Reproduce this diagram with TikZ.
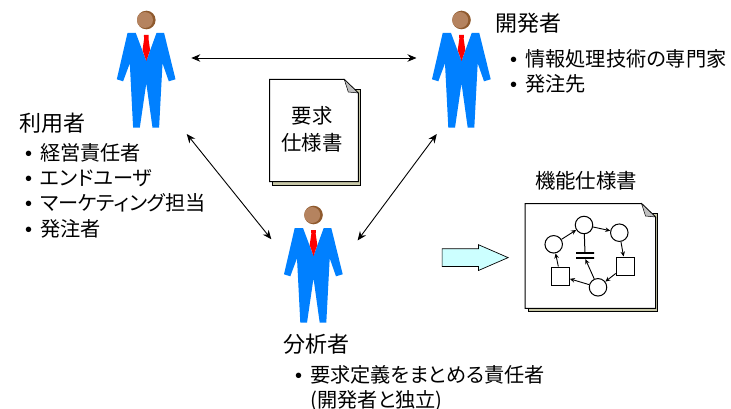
\documentclass[tikz,border=0pt]{standalone}
\usepackage{fontspec}
\setmainfont[RawFeature=+palt]{Noto Sans CJK JP}
\newfontfamily\bulletfont{Liberation Sans}
\usetikzlibrary{shapes, arrows.meta}
\definecolor{suitBlue}{HTML}{0080FF}
\definecolor{skinBrown}{HTML}{B5835F}
\definecolor{skinDark}{HTML}{8F5A2E}
\definecolor{pageShadow}{HTML}{C8C8A8}
\definecolor{foldGray}{HTML}{C0C0C0}
\definecolor{flowCyan}{HTML}{CCFFFF}
\tikzstyle{arrow} = [{Stealth[length=9pt,width=7.5pt]}-{Stealth[length=9pt,width=7.5pt]},line width=0.9pt]
\tikzstyle{smallarrow} = [-{Stealth[length=5pt,width=4.5pt]},line width=0.9pt]
\tikzstyle{personbox} = [rectangle, minimum width=90pt, minimum height=152pt, inner sep=0pt, outer sep=0pt]
\tikzstyle{place} = [circle, minimum size=17.5pt, inner sep=0pt, draw=black, line width=1pt, fill=white]
\tikzstyle{trans} = [rectangle, minimum size=18pt, inner sep=0pt, draw=black, line width=1pt, fill=white]
\tikzstyle{bar} = [rectangle, minimum width=18pt, minimum height=0pt, inner sep=0pt, draw=black, line width=1.7pt]
\tikzstyle{title} = [anchor=west, inner sep=0pt, font=\fontsize{22}{25}\selectfont]
\tikzstyle{listing} = [anchor=north west, inner sep=0pt, align=left, font=\fontsize{20.2}{25.3}\selectfont]
\tikzstyle{doctext} = [align=center, inner sep=0pt, font=\fontsize{20.4}{27}\selectfont]
\newcommand{\bul}{\makebox[15pt][l]{\bulletfont\fontsize{20}{20}\selectfont\textbullet}}
% one man in a suit, with an invisible box (#1) to hook the arrows on
\newcommand{\drawPerson}[3]{
    \begin{scope}[shift={(#2,#3)}]
        \fill [suitBlue] (-18.8,33) -- (-10.5,33) -- (0,61) -- (10.2,33) -- (17.8,33) -- (29.2,79.3) -- (22.5,81.3) -- (16.2,63.3) -- (12.8,127.7) -- (6.2,127.7) -- (0,83.3) -- (-6.5,127.7) -- (-13.2,127.7) -- (-16.5,63.3) -- (-23.2,81.3) -- (-29.5,79.3) -- cycle;
        \fill [red] (-2.4,35) -- (2.4,35) -- (2.2,39) -- (3.8,50) -- (0,61) -- (-3.8,50) -- (-2.2,39) -- cycle;
        \fill [skinDark] (0,20) circle (9.3);
        \fill [skinBrown] (-1.3,20) circle (8);
    \end{scope}
    \node (#1) at (#2,58+#3) [personbox] {};
}
% sheet of paper with a folded corner
\newcommand{\drawSheet}[4]{
    \fill [pageShadow, draw=black, line width=0.5pt] (#1+3,#2+10) -- (#3+2,#2+10) -- (#3+2,#4+3.3) -- (#1+3,#4+3.3) -- cycle;
    \draw [fill=white, line width=1pt] (#1,#2) -- (#3-14,#2) -- (#3,#2+13.5) -- (#3,#4) -- (#1,#4) -- cycle;
    \draw [fill=foldGray, line width=0.5pt] (#3-14,#2) -- (#3-10,#2+12.5) -- (#3,#2+13.5) -- cycle;
}
\begin{document}
\begin{tikzpicture}[x=1pt, y=-1pt]
    \useasboundingbox (0,0) rectangle (731,409);

    % Persons
    \drawPerson{user}{146.3}{0}
    \drawPerson{developer}{461.5}{0}
    \drawPerson{analyst}{313.5}{195}

    % Sheets
    \drawSheet{269.5}{79.5}{358.3}{181.7}
    \drawSheet{525}{203.5}{655.5}{308.3}
    \node (reqDoc) at (312,129.5) [doctext] {要求\\仕様書};
    \node (specTitle) at (586,181) [doctext] {機能仕様書};

    % Labels
    \node (userTitle) at (19,123) [title] {利用者};
    \node (userList) at (25,143) [listing] {\bul 経営責任者\\ \bul エンドユーザ\\ \bul マーケティング担当\\ \bul 発注者};
    \node (devTitle) at (495,23.5) [title] {開発者};
    \node (devList) at (510,49) [listing] {\bul 情報処理技術の専門家\\ \bul 発注先};
    \node (analystTitle) at (283,344) [title] {分析者};
    \node (analystList) at (295,365) [listing] {\bul 要求定義をまとめる責任者\\ \hspace{15pt}(開発者と独立)};

    % Net inside the spec sheet
    \node (placeA) at (553.7,244.3) [place] {};
    \node (placeB) at (584,225) [place] {};
    \node (placeC) at (619.3,232.7) [place] {};
    \node (placeD) at (598,287.3) [place] {};
    \node (transA) at (560.3,276) [trans] {};
    \node (transB) at (625.3,266) [trans] {};
    \node (barTop) at (585,253.3) [bar] {};
    \node (barBottom) at (585,258.3) [bar] {};
    \draw [smallarrow] (placeA) -- (placeB);
    \draw [smallarrow] (placeB) -- (placeC);
    \draw [smallarrow] (placeC) -- (transB);
    \draw [smallarrow] (transB) -- (placeD);
    \draw [smallarrow] (placeD) -- (transA);
    \draw [smallarrow] (transA) -- (placeA);
    \draw [line width=1pt] (placeB) -- (barTop);
    \draw [smallarrow] (placeD) -- (barBottom);

    % Block arrow
    \node (flow) at (509,257.6) [single arrow, anchor=tip, draw=black, line width=0.7pt, fill=flowCyan, inner xsep=0pt, inner ysep=8.5pt, minimum height=66pt, single arrow head extend=4pt, single arrow tip angle=47, single arrow head indent=0pt] {};

    % Arrows
    \draw [arrow] (user.east) -- (developer.west);
    \draw [arrow, shorten >=-4.5pt] (user.-62.5) -- (analyst.159);
    \draw [arrow, shorten >=-1.5pt] (developer.252.8) -- (analyst.17);
\end{tikzpicture}
\end{document}
